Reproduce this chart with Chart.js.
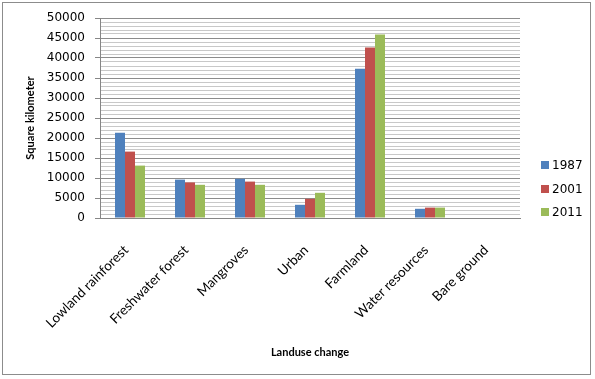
<!DOCTYPE html>
<html><head><meta charset="utf-8">
<script src="https://cdn.jsdelivr.net/npm/chart.js@4/dist/chart.umd.min.js"></script>
<style>
html,body{margin:0;padding:0;background:#fff;}
#wrap{position:relative;width:595px;height:379px;}
#frame{position:absolute;left:2px;top:2px;width:589px;height:373px;border:1px solid #8c8c8c;box-sizing:border-box;pointer-events:none;}
</style></head>
<body><div id="wrap"><canvas id="c" width="595" height="379"></canvas><div id="frame"></div></div>
<script>
const categories = ["Lowland rainforest","Freshwater forest","Mangroves","Urban","Farmland","Water resources","Bare ground"];
const seriesNames = ["1987","2001","2011"];
const values1987 = [21300, 9600, 9800, 3300, 37300, 2300, 0];
const values2001 = [16600, 8900, 9100, 4800, 42600, 2600, 0];
const values2011 = [13100, 8300, 8300, 6300, 45900, 2600, 0];
const colors = ["#4F81BD","#C0504D","#9BBB59"];
const yMax = 50000, yMajor = 5000, yMinor = 1000;

const legendPlugin = {
  id: 'customLegend',
  afterDraw(chart) {
    const ctx = chart.ctx;
    ctx.save();
    ctx.font = '12px "DejaVu Sans"';
    ctx.textBaseline = 'middle';
    const ys = [165, 189, 212];
    chart.data.datasets.forEach((ds, i) => {
      ctx.fillStyle = ds.backgroundColor;
      ctx.fillRect(541, ys[i] - 4, 8, 8);
      ctx.fillStyle = '#000';
      ctx.fillText(ds.label, 552, ys[i] + 1);
    });
    ctx.restore();
  }
};

new Chart(document.getElementById('c'), {
  type: 'bar',
  data: {
    labels: categories,
    datasets: [
      {label: seriesNames[0], data: values1987, backgroundColor: colors[0]},
      {label: seriesNames[1], data: values2001, backgroundColor: colors[1]},
      {label: seriesNames[2], data: values2011, backgroundColor: colors[2]}
    ]
  },
  options: {
    responsive: false,
    animation: false,
    devicePixelRatio: 1,
    layout: {padding: {left: 0, right: 75, top: 18, bottom: 20}},
    datasets: {bar: {categoryPercentage: 0.5, barPercentage: 1.0}},
    plugins: {legend: {display: false}, tooltip: {enabled: false}},
    scales: {
      x: {
        grid: {display: false, drawTicks: false},
        border: {color: '#868686'},
        ticks: {
          color: '#000', maxRotation: 45, minRotation: 45, padding: 24, labelOffset: -4,
          font: {family: 'Lato', size: 13.5}
        },
        title: {display: true, text: 'Landuse change', color: '#000',
          font: {family: 'Lato', size: 11, weight: 'bold'}, padding: {top: 0, bottom: 0}},
        afterFit(s) { s.height = 141; }
      },
      y: {
        min: 0, max: yMax,
        ticks: {
          stepSize: yMinor, color: '#000', padding: 10, autoSkip: false,
          font: {family: 'DejaVu Sans', size: 12},
          callback: v => (v % yMajor === 0 ? String(v) : '')
        },
        grid: {
          color: c => (c.tick && c.tick.value % yMajor === 0) ? '#8c8c8c' : '#c8c8c8',
          tickLength: 5,
          tickColor: c => (c.tick && c.tick.value % yMajor === 0) ? '#868686' : 'rgba(0,0,0,0)'
        },
        border: {color: '#868686'},
        title: {display: true, text: 'Square kilometer', color: '#000',
          font: {family: 'Lato', size: 11, weight: 'bold'}, padding: {top: 24, bottom: 0}},
        afterFit(s) { s.width = 100; }
      }
    }
  },
  plugins: [legendPlugin]
});
</script></body></html>
